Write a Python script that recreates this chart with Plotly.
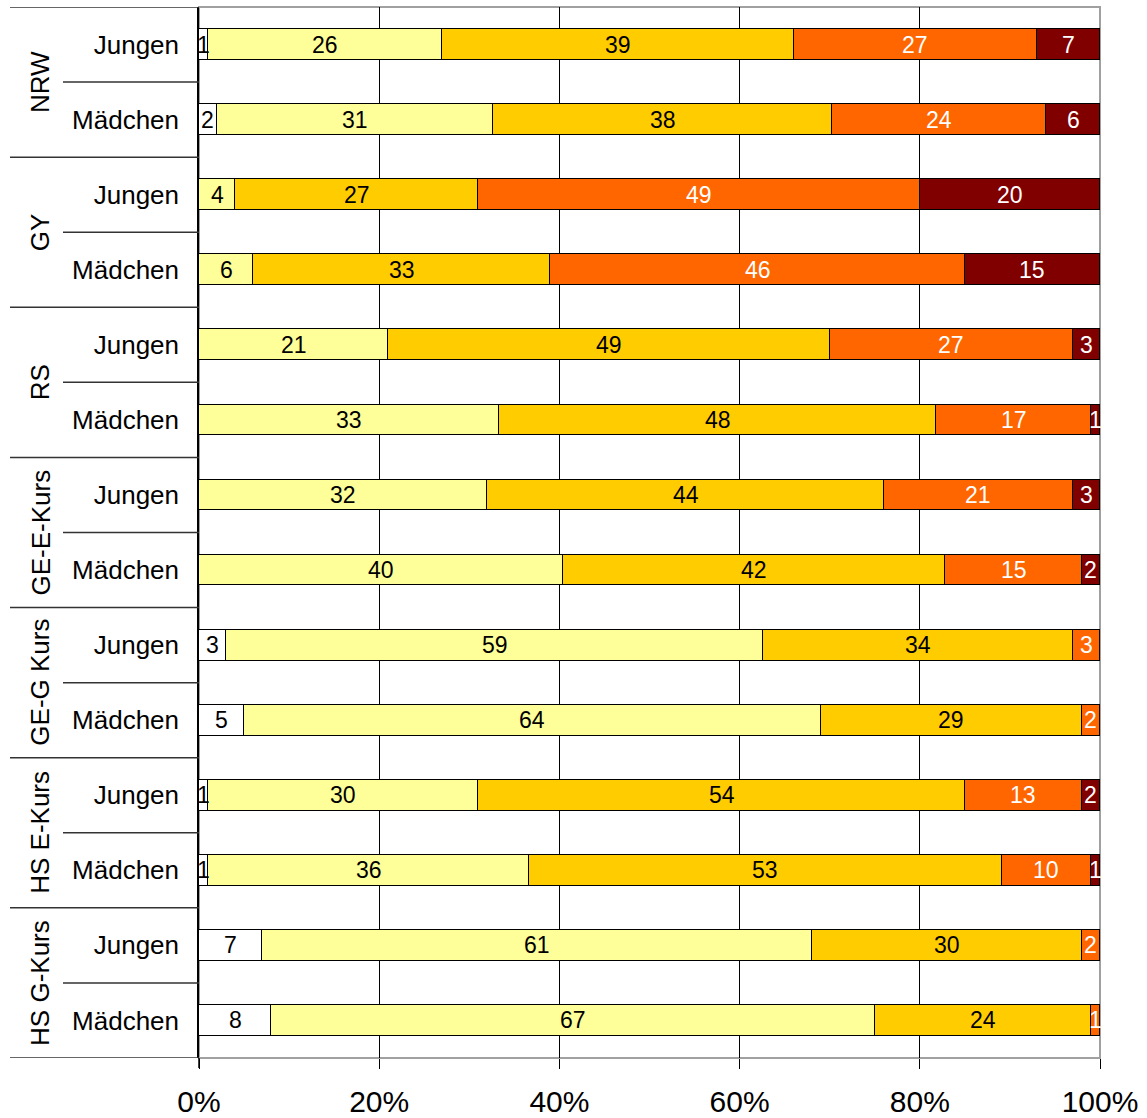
import plotly.graph_objects as go

groups = ["NRW", "GY", "RS", "GE-E-Kurs", "GE-G Kurs", "HS E-Kurs", "HS G-Kurs"]
genders = ["Jungen", "Mädchen"]
row_labels = [g for _ in groups for g in genders]

# five levels (left to right)
level_white = [1, 2, 0, 0, 0, 0, 0, 0, 3, 5, 1, 1, 7, 8]
level_lightyellow = [26, 31, 4, 6, 21, 33, 32, 40, 59, 64, 30, 36, 61, 67]
level_gold = [39, 38, 27, 33, 49, 48, 44, 42, 34, 29, 54, 53, 30, 24]
level_orange = [27, 24, 49, 46, 27, 17, 21, 15, 3, 2, 13, 10, 2, 1]
level_darkred = [7, 6, 20, 15, 3, 1, 3, 2, 0, 0, 2, 1, 0, 0]

series = [level_white, level_lightyellow, level_gold, level_orange, level_darkred]
colors = ["#FFFFFF", "#FFFF99", "#FFCC00", "#FF6600", "#800000"]
text_colors = ["black", "black", "black", "white", "white"]

W, H = 1147, 1118
ML, MR, MT, MB = 199, 47, 7, 60
PW = W - ML - MR
PH = H - MT - MB

def px2paper(px):
    return (px - ML) / PW

ypos = list(range(len(row_labels)))
fig = go.Figure()
for vals, col in zip(series, colors):
    fig.add_trace(go.Bar(
        y=ypos, x=vals, orientation="h", width=0.41,
        marker=dict(color=col, line=dict(color="black", width=1.5)),
        showlegend=False, hoverinfo="skip",
    ))

annotations = []
# value labels centred on each segment (normalised like a 100% stacked bar)
totals = [sum(s[i] for s in series) for i in range(len(row_labels))]
for i in range(len(row_labels)):
    cum = 0.0
    for vals, tc in zip(series, text_colors):
        v = vals[i]
        if v > 0:
            mid = (cum + v / 2) / totals[i] * 100
            annotations.append(dict(
                x=mid, y=i, xref="x", yref="y", text=str(v), showarrow=False,
                font=dict(family="Liberation Sans, Arial", size=23, color=tc),
            ))
        cum += v

# group labels (rotated)
for gi, g in enumerate(groups):
    annotations.append(dict(
        x=px2paper(40), y=gi * 2 + 0.5, xref="paper", yref="y", text=g,
        textangle=-90, showarrow=False, xanchor="center", yanchor="middle",
        font=dict(family="Liberation Sans, Arial", size=26, color="black"),
    ))

shapes = []
n = len(row_labels)
for k in range(n + 1):
    yb = k - 0.5
    x0 = px2paper(10) if k % 2 == 0 else px2paper(63)
    shapes.append(dict(type="line", xref="paper", yref="y", x0=x0, x1=0,
                       y0=yb, y1=yb, line=dict(color="#333333", width=1.5)))
# plot border (top and right light gray)
shapes.append(dict(type="rect", xref="paper", yref="paper", x0=0, x1=1, y0=0, y1=1,
                   line=dict(color="#A0A0A0", width=2), layer="below"))
# left axis extends slightly below plot
shapes.append(dict(type="line", xref="paper", yref="paper", x0=0, x1=0, y0=0, y1=-10 / PH,
                   line=dict(color="black", width=1.5)))

fig.update_layout(
    width=W, height=H,
    margin=dict(l=ML, r=MR, t=MT, b=MB, autoexpand=False),
    paper_bgcolor="white", plot_bgcolor="white",
    barmode="stack", barnorm="percent", bargap=0,
    annotations=annotations, shapes=shapes,
    font=dict(family="Liberation Sans, Arial", color="black"),
    xaxis=dict(
        range=[0, 100], tickvals=[0, 20, 40, 60, 80, 100],
        ticktext=["0%", "20%", "40%", "60%", "80%", "100%"],
        showgrid=True, gridcolor="black", gridwidth=1,
        ticks="outside", ticklen=10, tickcolor="black", tickwidth=1,
        showline=False, zeroline=False, automargin=False,
        tickfont=dict(family="Liberation Sans, Arial", size=30, color="black"),
        ticklabelstandoff=7,
    ),
    yaxis=dict(
        range=[n - 0.5, -0.5], tickvals=ypos, ticktext=row_labels,
        showgrid=False, zeroline=False, showline=True, linecolor="black", linewidth=1.5,
        ticks="", automargin=False,
        tickfont=dict(family="Liberation Sans, Arial", size=26, color="black"),
        ticklabelstandoff=13,
    ),
)

fig.write_html("out.html", config={"displayModeBar": False},
               post_script="document.body.style.margin='0';document.body.style.overflow='hidden';")
